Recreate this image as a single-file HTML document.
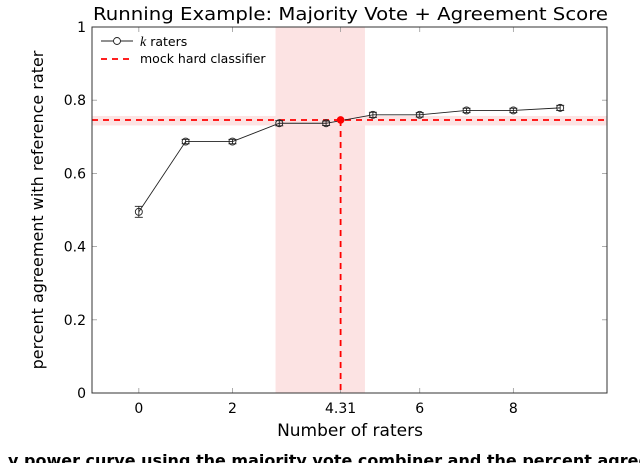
<!DOCTYPE html>
<html><head><meta charset="utf-8"><style>
body{margin:0;background:#fff;width:640px;height:463px;overflow:hidden}
svg text{font-family:"DejaVu Sans","Liberation Sans",sans-serif}
</style></head><body>
<svg id="chart" width="640" height="463" xmlns="http://www.w3.org/2000/svg"></svg>
<script>
const xs=[0,1,2,3,4,5,6,7,8,9];
const ys=[0.495,0.687,0.687,0.737,0.737,0.760,0.760,0.772,0.772,0.779];
const errs=[0.015,0.006,0.006,0.007,0.006,0.007,0.006,0.006,0.006,0.007];
const xTicks=[0,2,4.31,6,8];
const xTickLabels=["0","2","4.31","6","8"];
const yTicks=[0,0.2,0.4,0.6,0.8,1];
const yTickLabels=["0","0.2","0.4","0.6","0.8","1"];
const mockX=4.31, mockY=0.746;
const bandX=[2.92,4.83], bandY=[0.731,0.757];

const L=92,R=607,T=27,B=393,xmin=-1,xmax=10;
const sx=v=>L+(v-xmin)/(xmax-xmin)*(R-L);
const sy=v=>B-v*(B-T);
const svg=document.getElementById('chart');
const NS='http://www.w3.org/2000/svg';
function mk(tag,attrs,name,parent){const e=document.createElementNS(NS,tag);for(const k in attrs)e.setAttribute(k,attrs[k]);


(parent||svg).appendChild(e);return e;}

mk('rect',{x:sx(bandX[0]),y:T,width:sx(bandX[1])-sx(bandX[0]),height:B-T,fill:'#fce3e3'},'x-confidence-band');
mk('rect',{x:L,y:sy(bandY[1]),width:R-L,height:sy(bandY[0])-sy(bandY[1]),fill:'#fce3e3'},'y-confidence-band');

xTicks.forEach((t,i)=>{
 mk('line',{x1:sx(t),x2:sx(t),y1:B,y2:B-5,stroke:'#999','stroke-width':0.8},'x-tick');
 mk('line',{x1:sx(t),x2:sx(t),y1:T,y2:T+5,stroke:'#999','stroke-width':0.8},'x-tick-top');
 const tx=mk('text',{x:sx(t),y:B+20,'text-anchor':'middle','font-size':14,'font-family':'Liberation Serif, serif'},'x-tick-label');tx.textContent=xTickLabels[i];
});
yTicks.forEach((t,i)=>{
 mk('line',{x1:L,x2:L+5,y1:sy(t),y2:sy(t),stroke:'#999','stroke-width':0.8},'y-tick');
 mk('line',{x1:R,x2:R-5,y1:sy(t),y2:sy(t),stroke:'#999','stroke-width':0.8},'y-tick-right');
 const tx=mk('text',{x:L-6,y:sy(t)+5,'text-anchor':'end','font-size':14,'font-family':'Liberation Serif, serif'},'y-tick-label');tx.textContent=yTickLabels[i];
});

mk('line',{x1:L,x2:R,y1:sy(mockY),y2:sy(mockY),stroke:'#f00','stroke-width':1.8,'stroke-dasharray':'6 5'},'mock-classifier-hline');
mk('line',{x1:sx(mockX),x2:sx(mockX),y1:sy(mockY),y2:B,stroke:'#f00','stroke-width':1.8,'stroke-dasharray':'6 5'},'mock-classifier-vline');

let d='';xs.forEach((x,i)=>{d+=(i?'L':'M')+sx(x)+' '+sy(ys[i]);});
mk('path',{d:d,fill:'none',stroke:'#222','stroke-width':0.9},'k-raters-line');
xs.forEach((x,i)=>{
 const g=mk('g',{},'k-raters-point');
 const cx=sx(x);
 mk('line',{x1:cx,x2:cx,y1:sy(ys[i]+errs[i]),y2:sy(ys[i]-errs[i]),stroke:'#222','stroke-width':0.9},'error-bar',g);
 mk('line',{x1:cx-4,x2:cx+4,y1:sy(ys[i]+errs[i]),y2:sy(ys[i]+errs[i]),stroke:'#222','stroke-width':0.9},'error-cap',g);
 mk('line',{x1:cx-4,x2:cx+4,y1:sy(ys[i]-errs[i]),y2:sy(ys[i]-errs[i]),stroke:'#222','stroke-width':0.9},'error-cap',g);
 mk('circle',{cx:cx,cy:sy(ys[i]),r:3.5,fill:'none',stroke:'#222','stroke-width':0.9},'marker',g);
});
mk('circle',{cx:sx(mockX),cy:sy(mockY),r:3.8,fill:'#f00'},'mock-classifier-point');

mk('rect',{x:L,y:T,width:R-L,height:B-T,fill:'none',stroke:'#333','stroke-width':1},'plot-frame');

// legend
mk('line',{x1:101,x2:133,y1:41,y2:41,stroke:'#222','stroke-width':0.9},'legend-k-raters-line');
mk('circle',{cx:117,cy:41,r:3.5,fill:'#fff',stroke:'#222','stroke-width':0.9},'legend-k-raters-marker');
let t=mk('text',{x:140,y:46,'font-size':12.5},'legend-k-raters-label');t.innerHTML='<tspan font-style="italic" font-family="Liberation Serif, serif" font-size="14">k</tspan> raters';
mk('line',{x1:101,x2:133,y1:59,y2:59,stroke:'#f00','stroke-width':1.8,'stroke-dasharray':'6 5'},'legend-mock-line');
t=mk('text',{x:140,y:63,'font-size':12.5},'legend-mock-label');t.textContent='mock hard classifier';

t=mk('text',{x:93,y:20,'font-size':18,textLength:515,lengthAdjust:'spacingAndGlyphs'},'chart-title');t.textContent='Running Example: Majority Vote + Agreement Score';
t=mk('text',{x:350,y:436,'text-anchor':'middle','font-size':17},'x-axis-title');t.textContent='Number of raters';
t=mk('text',{x:0,y:0,'text-anchor':'middle','font-size':16,transform:'translate(43,210) rotate(-90)'},'y-axis-title');t.textContent='percent agreement with reference rater';
t=mk('text',{x:8,y:466,'font-size':16,'font-weight':'bold'},'figure-caption');t.textContent='y power curve using the majority vote combiner and the percent agreement';
</script>
</body></html>
